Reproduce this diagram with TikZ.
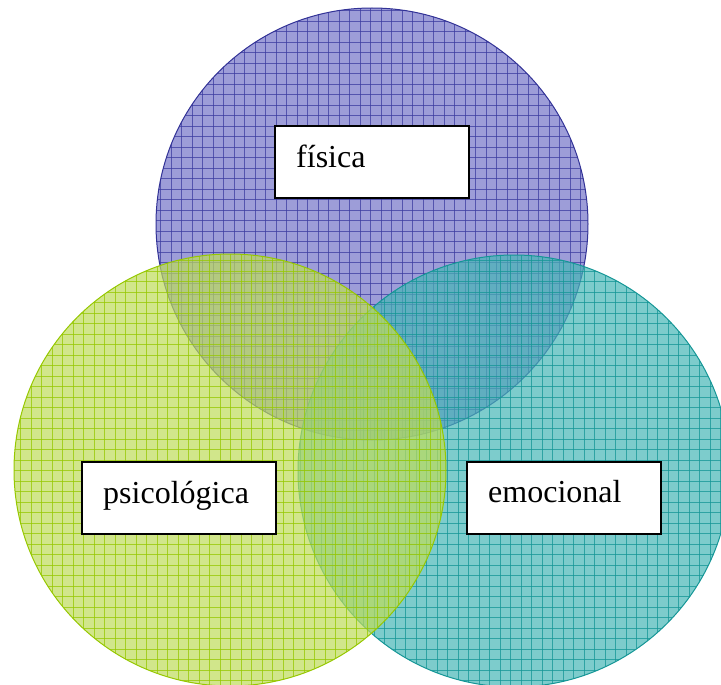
\documentclass[tikz,border=0pt]{standalone}
\usepackage{fontspec}
\setmainfont{Liberation Serif}
\begin{document}
\begin{tikzpicture}[x=1pt,y=-1pt,
  lbl/.style={draw=black,line width=2pt,fill=white,minimum width=194pt,minimum height=72pt,inner sep=0pt},
  txt/.style={anchor=base west,inner sep=0pt,font=\fontsize{32}{38}\selectfont},
  gridln/.style={opacity=0.75,line width=0.8pt}]
\definecolor{bfill}{RGB}{115,115,200}
\definecolor{bgrid}{RGB}{60,60,160}
\definecolor{bline}{RGB}{50,50,150}
\definecolor{gfill}{RGB}{190,220,90}
\definecolor{ggrid}{RGB}{150,200,0}
\definecolor{gline}{RGB}{150,200,0}
\definecolor{tfill}{RGB}{70,182,182}
\definecolor{tgrid}{RGB}{20,150,150}
\definecolor{tline}{RGB}{20,150,150}
\useasboundingbox (0,0) rectangle (721,685);
\clip (0,0) rectangle (721,685);
% blue circle
\begin{scope}
  \clip (372,224) circle (216);
  \fill[bfill,opacity=0.7] (372,224) circle (216);
  \foreach \k in {0,...,45} {
    \draw[bgrid,gridln] (150+\k*10.5,0) -- (150+\k*10.5,450);
    \draw[bgrid,gridln] (150,\k*10.5) -- (600,\k*10.5);
  }
\end{scope}
\draw[bline,line width=1pt] (372,224) circle (216);
% teal circle
\begin{scope}
  \clip (514,471) circle (216);
  \fill[tfill,opacity=0.7] (514,471) circle (216);
  \foreach \k in {0,...,44} {
    \draw[tgrid,gridln] (290+\k*10.5,250) -- (290+\k*10.5,700);
    \draw[tgrid,gridln] (290,250+\k*10.5) -- (740,250+\k*10.5);
  }
\end{scope}
\draw[tline,line width=1pt] (514,471) circle (216);
% green circle
\begin{scope}
  \clip (230,470) circle (216);
  \fill[gfill,opacity=0.7] (230,470) circle (216);
  \foreach \k in {0,...,44} {
    \draw[ggrid,gridln] (10+\k*10.5,250) -- (10+\k*10.5,700);
    \draw[ggrid,gridln] (10,250+\k*10.5) -- (460,250+\k*10.5);
  }
\end{scope}
\draw[gline,line width=1pt] (230,470) circle (216);
% labels
\node[lbl] (fis) at (372,162) {};
\node[lbl] (psi) at (179,498) {};
\node[lbl] (emo) at (563.5,498) {};
\node[txt] (tfis) at (296,167) {física};
\node[txt] (tpsi) at (103,503) {psicológica};
\node[txt] (temo) at (488,502) {emocional};
\end{tikzpicture}
\end{document}
